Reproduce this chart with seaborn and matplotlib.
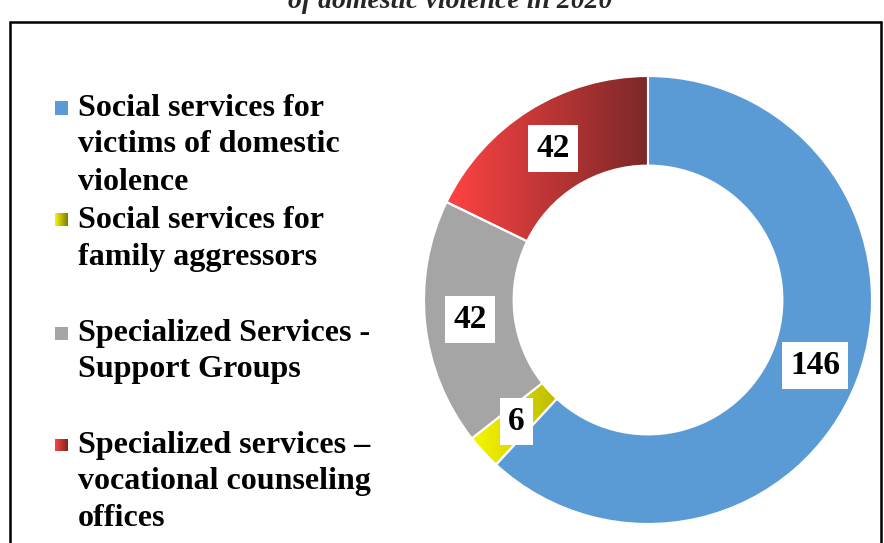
import numpy as np
import matplotlib
matplotlib.use("Agg")
import matplotlib.pyplot as plt
from matplotlib.colors import LinearSegmentedColormap
from matplotlib.patches import Rectangle
import seaborn as sns

# Services for domestic violence in 2020
categories = [
    "Social services for\nvictims of domestic\nviolence",
    "Social services for\nfamily aggressors",
    "Specialized Services -\nSupport Groups",
    "Specialized services \u2013\nvocational counseling\noffices",
]
counts = [146, 6, 42, 42]
title_text = "of domestic violence in 2020"

sns.set_theme(style="white")
plt.rcParams["font.family"] = ["Liberation Serif", "DejaVu Serif"]

W, H = 884, 543
fig = plt.figure(figsize=(W / 100, H / 100), dpi=100)
fig.patch.set_facecolor("white")

# flat colours and left->right gradients per slice
blue = "#5b9bd5"
gray = "#a5a5a5"
yellow_grad = LinearSegmentedColormap.from_list("yel", ["#f7f700", "#7c7c00"])
red_grad = LinearSegmentedColormap.from_list("red", ["#ff4343", "#7b2828"])
fills = [blue, yellow_grad, gray, red_grad]

# donut axes
cx, cy, r = 648, 300, 224
ax = fig.add_axes([(cx - r) / W, (H - cy - r) / H, 2 * r / W, 2 * r / H])
ax.set_xlim(-1, 1)
ax.set_ylim(-1, 1)
ax.set_aspect("equal")
ax.axis("off")

total = sum(counts)
face = [f if isinstance(f, str) else "none" for f in fills]
wedges, _, autotexts = ax.pie(
    counts,
    colors=face,
    startangle=90,
    counterclock=False,
    radius=1.0,
    autopct=lambda p: f"{round(p * total / 100)}",
    pctdistance=0.80,
    wedgeprops=dict(width=0.40, edgecolor="white", linewidth=1.5),
    textprops=dict(fontsize=24, fontweight="bold", color="black"),
)
ax.set_xlim(-1, 1)
ax.set_ylim(-1, 1)

grad = np.linspace(0, 1, 256).reshape(1, -1)
for w, f in zip(wedges, fills):
    if isinstance(f, str):
        continue
    verts = w.get_path().vertices
    x0, x1 = verts[:, 0].min(), verts[:, 0].max()
    y0, y1 = verts[:, 1].min(), verts[:, 1].max()
    im = ax.imshow(grad, cmap=f, extent=[x0, x1, y0, y1], aspect="auto",
                   zorder=w.get_zorder() - 0.1, interpolation="bilinear")
    im.set_clip_path(w)
    ax.set_xlim(-1, 1)
    ax.set_ylim(-1, 1)

for t in autotexts:
    t.set_bbox(dict(boxstyle="square,pad=0.24", fc="white", ec="none"))
    t.set_zorder(10)

# legend drawn as stacked entries on the left
entry_top = [108, 220, 333, 445]
line_step = 37
for label, f, y in zip(categories, fills, entry_top):
    mx, ms = 55, 13
    if isinstance(f, str):
        fig.patches.append(Rectangle((mx / W, (H - y - ms / 2) / H), ms / W, ms / H,
                                     transform=fig.transFigure, fc=f, ec="none"))
    else:
        lax = fig.add_axes([mx / W, (H - y - ms / 2) / H, ms / W, ms / H])
        lax.imshow(grad, cmap=f, aspect="auto", extent=[0, 1, 0, 1])
        lax.axis("off")
    for i, line in enumerate(label.split("\n")):
        fig.text(78 / W, (H - y - i * line_step) / H, line, fontsize=23,
                 fontweight="bold", va="center", ha="left", color="black")

# outer frame and partly visible heading
frame_top = 22
fig.add_artist(plt.Line2D([9.5 / W, 9.5 / W], [0, (H - frame_top) / H],
                          transform=fig.transFigure, color="black", lw=1.8))
fig.add_artist(plt.Line2D([9.5 / W, 880.5 / W], [(H - frame_top) / H] * 2,
                          transform=fig.transFigure, color="black", lw=1.8))
fig.add_artist(plt.Line2D([880.5 / W, 880.5 / W], [0, (H - frame_top) / H],
                          transform=fig.transFigure, color="black", lw=1.8))
fig.text(450 / W, (H - 8) / H, title_text, fontsize=20, fontweight="bold",
         fontstyle="italic", ha="center", va="baseline")

fig.savefig("out.png", dpi=100, facecolor="white")
